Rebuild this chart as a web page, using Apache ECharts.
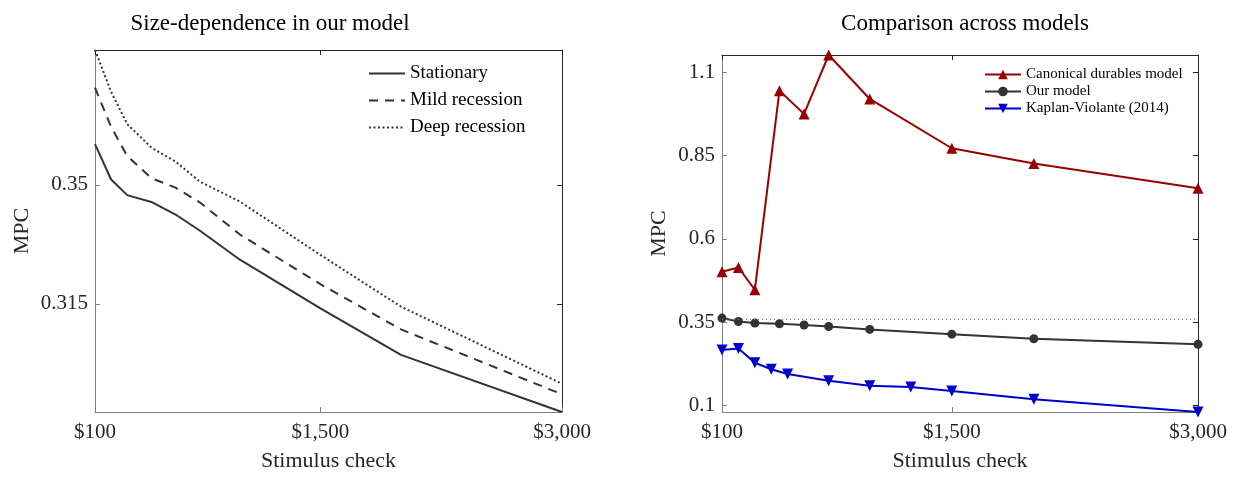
<!DOCTYPE html>
<html>
<head>
<meta charset="utf-8">
<script src="https://cdn.jsdelivr.net/npm/echarts@6/dist/echarts.min.js"></script>
<style>html,body{margin:0;padding:0;background:#fff;}#c{width:1238px;height:477px;}</style>
</head>
<body>
<div id="c"></div>
<script>
// ---- Data ----
const checks = [100, 200, 300, 450, 600, 750, 1000, 1500, 2000, 3000];
const stationary = [0.3620, 0.3516, 0.3470, 0.3450, 0.3413, 0.3366, 0.3280, 0.3137, 0.3000, 0.2832];
const mildRecession = [0.3786, 0.3671, 0.3585, 0.3520, 0.3492, 0.3449, 0.3354, 0.3208, 0.3075, 0.2884];
const deepRecession = [0.3897, 0.3774, 0.3679, 0.3610, 0.3569, 0.3510, 0.3451, 0.3294, 0.3142, 0.2915];

const canonicalDurables = [0.501, 0.514, 0.447, 1.045, 0.975, 1.152, 1.020, 0.872, 0.826, 0.752];
const ourModel = stationary;
const kvChecks = [100, 200, 300, 400, 500, 750, 1000, 1250, 1500, 2000, 3000];
const kaplanViolante = [0.266, 0.271, 0.228, 0.2085, 0.194, 0.174, 0.159, 0.155, 0.143, 0.118, 0.080];

const xTicks = [100, 1500, 3000];
const xTickLabels = ['$100', '$1,500', '$3,000'];
const yTicksLeft = [0.315, 0.35];
const yTicksRight = [0.1, 0.35, 0.6, 0.85, 1.1];
const refLine = 0.3620;

// ---- Chart ----
const FONT = '"Liberation Serif", "DejaVu Serif", serif';
const pair = (xs, ys) => xs.map((x, i) => [x, ys[i]]);
const gray = '#808080', dark = '#262626';

function xAx(grid, pos, main) {
  return {
    type: 'value', gridIndex: grid, position: pos, min: 100, max: 3000,
    axisLine: { show: true, onZero: false, lineStyle: { color: main ? gray : dark, width: 1 } },
    axisTick: { show: true, inside: true, length: 5, customValues: xTicks, lineStyle: { color: main ? gray : dark } },
    axisLabel: main ? {
      show: true, customValues: xTicks, margin: 10, color: '#262626', fontFamily: FONT, fontSize: 21,
      formatter: v => xTickLabels[xTicks.indexOf(v)] || ''
    } : { show: false },
    splitLine: { show: false },
    name: main ? 'Stimulus check' : '', nameLocation: 'middle', nameGap: 38,
    nameTextStyle: { fontFamily: FONT, fontSize: 22, color: '#262626' }
  };
}
function yAx(grid, pos, main, min, max, ticks, nameGap) {
  return {
    type: 'value', gridIndex: grid, position: pos, min: min, max: max,
    axisLine: { show: true, onZero: false, lineStyle: { color: main ? gray : dark, width: 1 } },
    axisTick: { show: true, inside: true, length: 5, customValues: ticks, lineStyle: { color: main ? gray : dark } },
    axisLabel: main ? {
      show: true, customValues: ticks, margin: 7, color: '#262626', fontFamily: FONT, fontSize: 21,
      formatter: v => String(+v.toFixed(3))
    } : { show: false },
    splitLine: { show: false },
    name: main ? 'MPC' : '', nameLocation: 'middle', nameGap: nameGap, nameRotate: 90,
    nameTextStyle: { fontFamily: FONT, fontSize: 22, color: '#262626' }
  };
}

const chart = echarts.init(document.getElementById('c'), null, { renderer: 'canvas' });
chart.setOption({
  animation: false,
  backgroundColor: '#fff',
  title: [
    { text: 'Size-dependence in our model', left: 265, top: 7, textAlign: 'center',
      textStyle: { fontFamily: FONT, fontSize: 23, fontWeight: 'normal', color: '#000' } },
    { text: 'Comparison across models', left: 960, top: 7, textAlign: 'center',
      textStyle: { fontFamily: FONT, fontSize: 23, fontWeight: 'normal', color: '#000' } }
  ],
  grid: [
    { left: 95, top: 50, width: 467, height: 362 },
    { left: 722, top: 55, width: 476, height: 361 }
  ],
  xAxis: [xAx(0, 'bottom', true), xAx(0, 'top', false), xAx(1, 'bottom', true), xAx(1, 'top', false)],
  yAxis: [
    yAx(0, 'left', true, 0.2832, 0.3897, yTicksLeft, 62),
    yAx(0, 'right', false, 0.2832, 0.3897, yTicksLeft, 0),
    yAx(1, 'left', true, 0.080, 1.152, yTicksRight, 52),
    yAx(1, 'right', false, 0.080, 1.152, yTicksRight, 0)
  ],
  legend: [
    { data: ['Stationary', 'Mild recession', 'Deep recession'], orient: 'vertical', left: 368, top: 64,
      itemWidth: 36, itemHeight: 19, itemGap: 8, padding: 0, itemStyle: { opacity: 0 },
      textStyle: { fontFamily: FONT, fontSize: 19, color: '#000' } },
    { data: ['Canonical durables model', 'Our model', 'Kaplan-Violante (2014)'], orient: 'vertical', left: 984, top: 67,
      itemWidth: 36, itemHeight: 12, itemGap: 2, padding: 0,
      textStyle: { fontFamily: FONT, fontSize: 15, color: '#000' } }
  ],
  series: [
    { name: 'Stationary', type: 'line', xAxisIndex: 0, yAxisIndex: 0, data: pair(checks, stationary),
      symbol: 'none', lineStyle: { color: '#333', width: 2, type: 'solid' }, itemStyle: { color: '#333' } },
    { name: 'Mild recession', type: 'line', xAxisIndex: 0, yAxisIndex: 0, data: pair(checks, mildRecession),
      symbol: 'none', lineStyle: { color: '#333', width: 2, type: [9, 7] }, itemStyle: { color: '#333' } },
    { name: 'Deep recession', type: 'line', xAxisIndex: 0, yAxisIndex: 0, data: pair(checks, deepRecession),
      symbol: 'none', lineStyle: { color: '#333', width: 2, type: [2, 2.5] }, itemStyle: { color: '#333' } },

    { name: 'Canonical durables model', type: 'line', xAxisIndex: 2, yAxisIndex: 2, data: pair(checks, canonicalDurables),
      symbol: 'triangle', symbolSize: 11, showAllSymbol: true,
      lineStyle: { color: '#990000', width: 2 }, itemStyle: { color: '#990000' } },
    { name: 'Our model', type: 'line', xAxisIndex: 2, yAxisIndex: 2, data: pair(checks, ourModel),
      symbol: 'circle', symbolSize: 9, showAllSymbol: true,
      lineStyle: { color: '#333', width: 2 }, itemStyle: { color: '#333' },
      markLine: { silent: true, symbol: 'none', label: { show: false },
        lineStyle: { color: '#777', width: 1, type: [1, 3] }, data: [{ yAxis: refLine }] } },
    { name: 'Kaplan-Violante (2014)', type: 'line', xAxisIndex: 2, yAxisIndex: 2, data: pair(kvChecks, kaplanViolante),
      symbol: 'triangle', symbolRotate: 180, symbolSize: 11, showAllSymbol: true,
      lineStyle: { color: '#0000cc', width: 2 }, itemStyle: { color: '#0000cc' } }
  ]
});
</script>
</body>
</html>
